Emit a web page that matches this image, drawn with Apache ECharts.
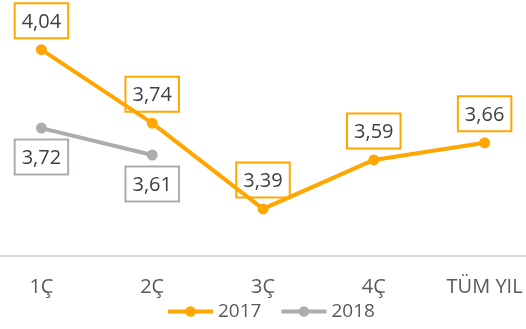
<!DOCTYPE html>
<html>
<head>
<meta charset="utf-8">
<script src="https://cdn.jsdelivr.net/npm/echarts@6/dist/echarts.min.js"></script>
<style>
  html, body { margin: 0; padding: 0; background: #fff; overflow: hidden; width: 526px; height: 329px; }
  /* canvas runs slightly past both edges so the axis line spans the full width */
  #chart { position: absolute; left: -14px; top: 0; width: 554px; height: 329px; }
</style>
</head>
<body>
<div id="chart"></div>
<script>
// Quarter labels along the horizontal axis
const categories = ['1Ç', '2Ç', '3Ç', '4Ç', 'TÜM YIL'];
// Yearly series values
const values2017 = [4.04, 3.74, 3.39, 3.59, 3.66];
const values2018 = [3.72, 3.61, null, null, null];

const ORANGE = '#FFA600';
const GREY = '#AFABAB';
const FONT = '"Open Sans", sans-serif';

const fmt = p => p.value == null ? '' : p.value.toFixed(2).replace('.', ',');

function labelFor(color, position) {
  return {
    show: true,
    position: position,
    distance: 6,
    formatter: fmt,
    color: '#404040',
    fontFamily: FONT,
    fontSize: 20,
    lineHeight: 22,
    borderColor: color,
    borderWidth: 2,
    padding: [8, 7, 5, 7]
  };
}

const chart = echarts.init(document.getElementById('chart'), null, { renderer: 'canvas' });
chart.setOption({
  animation: false,
  backgroundColor: '#ffffff',
  grid: { left: 0, right: 0, top: 10.5, bottom: 73.5, containLabel: false },
  xAxis: {
    type: 'category',
    data: categories,
    boundaryGap: true,
    axisLine: { show: true, lineStyle: { color: '#D9D9D9', width: 2 } },
    axisTick: { show: false },
    axisLabel: { color: '#595959', fontFamily: FONT, fontSize: 20, margin: 22, interval: 0 }
  },
  yAxis: {
    type: 'value',
    min: 3.2,
    max: 4.2,
    show: false,
    splitLine: { show: false }
  },
  legend: {
    left: 180,
    top: 302,
    padding: 0,
    itemWidth: 45,
    itemHeight: 13,
    itemGap: 18,
    lineStyle: { width: 4 },
    textStyle: { color: '#595959', fontFamily: FONT, fontSize: 19 },
    data: ['2017', '2018']
  },
  series: [
    {
      name: '2017',
      type: 'line',
      data: values2017,
      symbol: 'circle',
      symbolSize: 11,
      itemStyle: { color: ORANGE },
      lineStyle: { color: ORANGE, width: 4 },
      label: labelFor(ORANGE, 'top'),
      z: 3
    },
    {
      name: '2018',
      type: 'line',
      data: values2018,
      symbol: 'circle',
      symbolSize: 11,
      itemStyle: { color: GREY },
      lineStyle: { color: GREY, width: 4 },
      label: labelFor(GREY, 'bottom'),
      z: 2
    }
  ]
});
</script>
</body>
</html>
